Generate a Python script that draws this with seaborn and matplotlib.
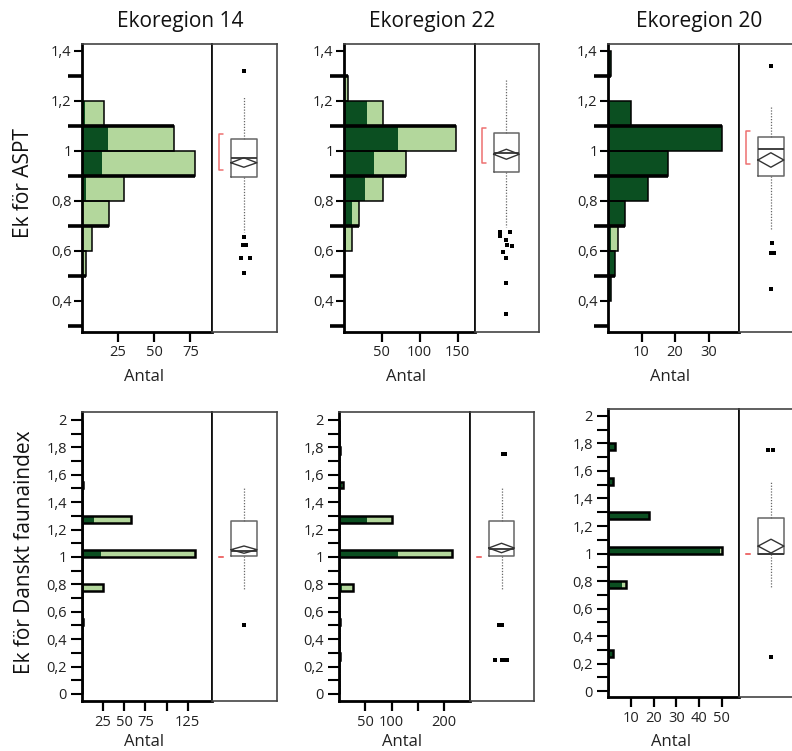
import numpy as np
import pandas as pd
import matplotlib
matplotlib.use("Agg")
import matplotlib.pyplot as plt
from matplotlib.ticker import FixedLocator, MultipleLocator, FuncFormatter
import seaborn as sns

sns.set_theme(style="white")
plt.rcParams["font.family"] = ["Open Sans", "DejaVu Sans"]

W, H = 792, 751
LIGHT = "#b3d79c"
DARK = "#0b4f21"

regions = ["Ekoregion 14", "Ekoregion 22", "Ekoregion 20"]

# ---------------- Ek för ASPT (bins 0.1 wide) ----------------
aspt_width = 0.1
aspt14_lower = [0.5, 0.6, 0.7, 0.8, 0.9, 1.0, 1.1]
aspt14_total = [3, 7, 19, 29, 78, 64, 15]
aspt14_dark = [0, 0, 1, 3, 14, 18, 2]
aspt22_lower = [0.6, 0.7, 0.8, 0.9, 1.0, 1.1, 1.2]
aspt22_total = [11, 20, 51, 82, 148, 51, 5]
aspt22_dark = [3, 11, 28, 40, 71, 30, 0]
aspt20_lower = [0.4, 0.5, 0.6, 0.7, 0.8, 0.9, 1.0, 1.1, 1.3]
aspt20_total = [1, 2, 3, 5, 12, 18, 34, 7, 1]
aspt20_dark = [1, 2, 1, 5, 12, 18, 34, 7, 1]

# box plot summaries (ER14, ER22, ER20)
aspt_q1 = [0.895, 0.914, 0.899]
aspt_med = [0.973, 0.990, 1.007]
aspt_q3 = [1.047, 1.070, 1.056]
aspt_whislo = [0.676, 0.696, 0.686]
aspt_whishi = [1.216, 1.283, 1.176]
aspt_mean = [0.952, 0.986, 0.963]
aspt_mean_lo = [0.934, 0.966, 0.934]
aspt_mean_hi = [0.972, 1.006, 0.992]
aspt_short_lo = [0.923, 0.952, 0.947]
aspt_short_hi = [1.067, 1.092, 1.079]
aspt14_out = [1.32, 0.656, 0.623, 0.623, 0.57, 0.57, 0.513]
aspt14_out_dx = [0, 0, -0.02, 0.03, -0.05, 0.09, 0]
aspt22_out = [0.676, 0.676, 0.659, 0.643, 0.623, 0.619, 0.596, 0.57, 0.472, 0.347]
aspt22_out_dx = [-0.094, 0.05, -0.094, -0.01, 0.01, 0.094, -0.053, 0, 0, 0]
aspt20_out = [1.34, 0.63, 0.592, 0.592, 0.447]
aspt20_out_dx = [0, 0.015, 0, 0.05, 0]

# ---------------- Ek för Danskt faunaindex (bins 0.05 wide) ----------------
dfi_width = 0.05
dfi14_lower = [0.5, 0.75, 1.0, 1.25, 1.5]
dfi14_total = [1, 25, 134, 58, 1]
dfi14_dark = [0, 0, 22, 14, 0]
dfi22_lower = [0.25, 0.5, 0.75, 1.0, 1.25, 1.5, 1.75]
dfi22_total = [1, 1, 26, 216, 101, 7, 1]
dfi22_dark = [1, 1, 6, 112, 53, 5, 1]
dfi20_lower = [0.25, 0.75, 1.0, 1.25, 1.5, 1.75]
dfi20_total = [2, 8, 50, 18, 2, 3]
dfi20_dark = [2, 6, 49, 18, 2, 3]

dfi_q1 = [1.010, 1.007, 1.000]
dfi_med = [1.045, 1.060, 1.000]
dfi_q3 = [1.263, 1.263, 1.261]
dfi_whislo = [0.766, 0.764, 0.753]
dfi_whishi = [1.513, 1.513, 1.520]
dfi_mean = [1.053, 1.065, 1.054]
dfi_mean_lo = [1.027, 1.031, 1.004]
dfi_mean_hi = [1.080, 1.100, 1.104]
dfi_short_lo = [1.0, 1.0, 1.0]
dfi_short_hi = [1.0, 1.0, 1.0]
dfi14_out = [0.5]
dfi14_out_dx = [0]
dfi22_out = [1.75, 1.75, 0.5, 0.5, 0.25, 0.25, 0.25, 0.25]
dfi22_out_dx = [0.02, 0.06, -0.04, 0.01, -0.1, 0.015, 0.055, 0.09]
dfi20_out = [1.75, 1.75, 0.25]
dfi20_out_dx = [-0.04, 0.03, 0]

# count axis ticks
aspt_xticks = [[25, 50, 75], [50, 100, 150], [10, 20, 30]]
aspt_xticklabels = [["25", "50", "75"], ["50", "100", "150"], ["10", "20", "30"]]
dfi_xticks = [[25, 50, 75, 100, 125], [50, 100, 150, 200], [10, 20, 30, 40, 50]]
dfi_xticklabels = [["25", "50", "75", "", "125"], ["50", "100", "", "200"],
                   ["10", "20", "30", "40", "50"]]
aspt_xmax = [90, 173, 39.1]
dfi_xmax = [154, 250, 57.7]

fig = plt.figure(figsize=(W / 100, H / 100), dpi=100)


def px_axes(x0, y0, x1, y1):
    return fig.add_axes([x0 / W, 1 - y1 / H, (x1 - x0) / W, (y1 - y0) / H])


def comma_fmt(v, pos=None):
    return f"{round(v, 2):g}".replace(".", ",")


def draw_hist(ax, lower, total, dark, width, lo, hi, lw):
    edges = [round(float(e), 3) for e in np.arange(lo, hi + width / 2, width)]
    df = pd.DataFrame({"mid": np.asarray(lower, dtype=float) + width / 2,
                       "total": np.asarray(total, dtype=float),
                       "dark": np.asarray(dark, dtype=float)})
    sns.histplot(data=df, y="mid", weights="total", bins=edges, color=LIGHT,
                 alpha=1, edgecolor="none", linewidth=0, ax=ax)
    sns.histplot(data=df, y="mid", weights="dark", bins=edges, color=DARK,
                 alpha=1, edgecolor="none", linewidth=0, ax=ax)
    sns.histplot(data=df, y="mid", weights="total", bins=edges, fill=False,
                 color="black", linewidth=lw, ax=ax)
    ax.set_xlabel("")
    ax.set_ylabel("")


def style_hist(ax, xmax, ylim, xticks, xticklabels, xpad):
    ax.set_xlim(0, xmax)
    ax.set_ylim(*ylim)
    for side in ["left", "bottom"]:
        ax.spines[side].set_linewidth(2)
        ax.spines[side].set_color("black")
    for side in ["top", "right"]:
        ax.spines[side].set_linewidth(1.2)
        ax.spines[side].set_color("#444444")
    ax.xaxis.set_major_locator(FixedLocator(xticks))
    ax.set_xticklabels(xticklabels)
    ax.tick_params(axis="x", which="major", bottom=True, direction="out",
                   length=7, width=1.6, color="black", labelsize=10.5,
                   pad=xpad, labelcolor="#222222")
    ax.yaxis.set_major_formatter(FuncFormatter(comma_fmt))


def draw_box(ax, ylim, q1, med, q3, wlo, whi, mean, mlo, mhi, slo, shi, out, out_dx):
    ax.set_xlim(0, 1)
    ax.set_ylim(*ylim)
    ax.set_xticks([])
    ax.set_yticks([])
    for side in ax.spines:
        ax.spines[side].set_linewidth(1.2)
        ax.spines[side].set_color("#444444")
    ax.spines["left"].set_color("black")
    c, w = 0.49, 0.40
    ax.bxp([dict(med=med, q1=q1, q3=q3, whislo=wlo, whishi=whi, fliers=[])],
           positions=[c], widths=w, showfliers=False, showcaps=False,
           manage_ticks=False,
           boxprops=dict(color="#666666", linewidth=1.1),
           medianprops=dict(color="#333333", linewidth=1.3),
           whiskerprops=dict(color="#666666", linewidth=0.9, linestyle=(0, (1, 1.3))))
    # means diamond
    ax.plot([c - w / 2, c, c + w / 2, c, c - w / 2], [mean, mhi, mean, mlo, mean],
            color="#333333", linewidth=1.0)
    # shortest half bracket
    ax.plot([0.17, 0.11, 0.11, 0.17], [shi, shi, slo, slo], color="#ee7070",
            linewidth=1.1)
    ax.plot(c + np.asarray(out_dx), out, "s", color="black", markersize=2.9,
            markeredgewidth=0)


# ---------------- top row: ASPT ----------------
aspt_hist_x = [(82, 212), (344, 475), (608, 739)]
aspt_box_x = [(212, 277), (475, 539), (739, 804)]
aspt_y = (44, 332)
aspt_ylim = (0.275, 1.427)
aspt_data = [(aspt14_lower, aspt14_total, aspt14_dark, aspt14_out, aspt14_out_dx),
             (aspt22_lower, aspt22_total, aspt22_dark, aspt22_out, aspt22_out_dx),
             (aspt20_lower, aspt20_total, aspt20_dark, aspt20_out, aspt20_out_dx)]

for i in range(3):
    lower, total, dark, out, out_dx = aspt_data[i]
    ax = px_axes(aspt_hist_x[i][0], aspt_y[0], aspt_hist_x[i][1], aspt_y[1])
    draw_hist(ax, lower, total, dark, aspt_width, 0.3, 1.4, 1.1)
    # heavy bin boundaries at the odd tenths
    low_arr = np.round(np.asarray(lower), 2)
    tot_arr = np.asarray(total, dtype=float)
    for e in [0.3, 0.5, 0.7, 0.9, 1.1, 1.3]:
        adj = tot_arr[(np.isclose(low_arr, e)) | (np.isclose(low_arr, e - 0.1))]
        if adj.size:
            ax.hlines(e, 0, adj.max(), color="black", linewidth=2.6, zorder=5)
    style_hist(ax, aspt_xmax[i], aspt_ylim, aspt_xticks[i], aspt_xticklabels[i], 2)
    ax.yaxis.set_major_locator(FixedLocator([0.4, 0.6, 0.8, 1.0, 1.2, 1.4]))
    ax.yaxis.set_minor_locator(FixedLocator([0.3, 0.5, 0.7, 0.9, 1.1, 1.3]))
    ax.tick_params(axis="y", which="major", left=True, direction="out", length=6,
                   width=1.5, color="black", labelsize=10.5, pad=1.5,
                   labelcolor="#222222")
    ax.tick_params(axis="y", which="minor", left=True, direction="out", length=10,
                   width=2.6, color="black")
    bx = px_axes(aspt_box_x[i][0], aspt_y[0], aspt_box_x[i][1], aspt_y[1])
    draw_box(bx, aspt_ylim, aspt_q1[i], aspt_med[i], aspt_q3[i], aspt_whislo[i],
             aspt_whishi[i], aspt_mean[i], aspt_mean_lo[i], aspt_mean_hi[i],
             aspt_short_lo[i], aspt_short_hi[i], out, out_dx)
    cx = (aspt_hist_x[i][0] + aspt_hist_x[i][1]) / 2 - 3
    fig.text(cx / W, 1 - 377 / H, "Antal", ha="center", va="center",
             fontsize=12, color="#222222")

# ---------------- bottom row: Danskt faunaindex ----------------
dfi_hist_x = [(82, 212.3), (339.3, 470), (608.3, 739.3)]
dfi_box_x = [(212.3, 277), (470, 534.3), (739.3, 804)]
dfi_y = [(411.7, 700.7), (411.7, 700.7), (409, 696.7)]
dfi_ylim = [(-0.049, 2.06), (-0.049, 2.06), (-0.04, 2.05)]
dfi_data = [(dfi14_lower, dfi14_total, dfi14_dark, dfi14_out, dfi14_out_dx),
            (dfi22_lower, dfi22_total, dfi22_dark, dfi22_out, dfi22_out_dx),
            (dfi20_lower, dfi20_total, dfi20_dark, dfi20_out, dfi20_out_dx)]

for i in range(3):
    lower, total, dark, out, out_dx = dfi_data[i]
    ax = px_axes(dfi_hist_x[i][0], dfi_y[i][0], dfi_hist_x[i][1], dfi_y[i][1])
    draw_hist(ax, lower, total, dark, dfi_width, 0.0, 2.0, 1.8)
    style_hist(ax, dfi_xmax[i], dfi_ylim[i], dfi_xticks[i], dfi_xticklabels[i], 3.5)
    ax.yaxis.set_major_locator(MultipleLocator(0.2))
    ax.yaxis.set_minor_locator(MultipleLocator(0.1))
    ax.tick_params(axis="y", which="major", left=True, direction="out", length=8,
                   width=1.5, color="black", labelsize=10.5, pad=3,
                   labelcolor="#222222")
    ax.tick_params(axis="y", which="minor", left=True, direction="out", length=8,
                   width=1.5, color="black")
    bx = px_axes(dfi_box_x[i][0], dfi_y[i][0], dfi_box_x[i][1], dfi_y[i][1])
    draw_box(bx, dfi_ylim[i], dfi_q1[i], dfi_med[i], dfi_q3[i], dfi_whislo[i],
             dfi_whishi[i], dfi_mean[i], dfi_mean_lo[i], dfi_mean_hi[i],
             dfi_short_lo[i], dfi_short_hi[i], out, out_dx)
    cx = (dfi_hist_x[i][0] + dfi_hist_x[i][1]) / 2 - 3
    fig.text(cx / W, 1 - 742 / H, "Antal", ha="center", va="center",
             fontsize=12, color="#222222")

# titles and row labels
for name, cx in zip(regions, [180, 432.5, 699]):
    fig.text(cx / W, 1 - 22 / H, name, ha="center", va="center", fontsize=15,
             color="#111111")
fig.text(24 / W, 1 - 183 / H, "Ek för ASPT", rotation=90, ha="center",
         va="center", fontsize=15, color="#111111")
fig.text(25 / W, 1 - 552 / H, "Ek för Danskt faunaindex", rotation=90,
         ha="center", va="center", fontsize=15, color="#111111")

fig.savefig("out.png", dpi=100, facecolor="white")
